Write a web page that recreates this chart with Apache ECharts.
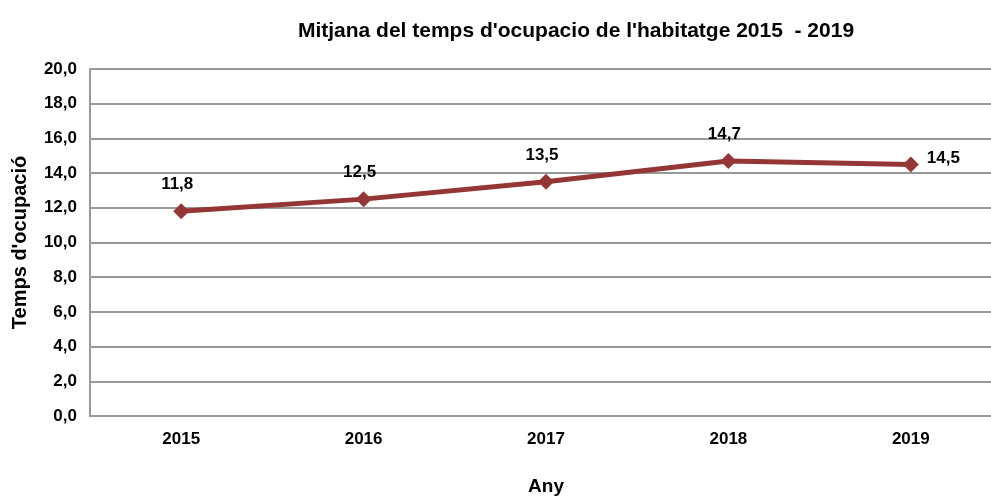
<!DOCTYPE html>
<html>
<head>
<meta charset="utf-8">
<script src="https://cdn.jsdelivr.net/npm/echarts@6/dist/echarts.min.js"></script>
<style>
  html, body { margin: 0; padding: 0; background: #fff; }
  #chart { width: 991px; height: 497px; }
</style>
</head>
<body>
<div id="chart"></div>
<script>
// dades
var anys = ['2015', '2016', '2017', '2018', '2019'];
var mitjana = [11.8, 12.5, 13.5, 14.7, 14.5];
var titol = "Mitjana del temps d'ocupacio de l'habitatge 2015  - 2019";

var font = 'Liberation Sans, Arial, sans-serif';

var chart = echarts.init(document.getElementById('chart'));

var punts = mitjana.map(function (v, i) {
  var p = { value: v };
  // l'ultim punt porta l'etiqueta a la dreta
  if (i === mitjana.length - 1) {
    p.label = { position: 'right', distance: 8, offset: [0, -6] };
  }
  return p;
});

chart.setOption({
  animation: false,
  title: {
    text: titol,
    left: 571,
    top: 16,
    textAlign: 'center',
    textStyle: { fontFamily: font, fontSize: 21, fontWeight: 'bold', color: '#000' }
  },
  grid: { left: 90, top: 69, width: 912, height: 347, outerBoundsMode: 'none' },
  xAxis: {
    type: 'category',
    data: anys,
    boundaryGap: true,
    name: 'Any',
    nameLocation: 'middle',
    nameGap: 61,
    nameTextStyle: { fontFamily: font, fontSize: 19, fontWeight: 'bold', color: '#000' },
    axisLine: { lineStyle: { color: '#999', width: 2 } },
    axisTick: { show: false },
    axisLabel: { margin: 15, fontFamily: font, fontSize: 17, fontWeight: 'bold', color: '#000' }
  },
  yAxis: {
    type: 'value',
    min: 0,
    max: 20,
    interval: 2,
    name: "Temps d'ocupació",
    nameLocation: 'middle',
    nameGap: 60,
    nameTextStyle: { fontFamily: font, fontSize: 20, fontWeight: 'bold', color: '#000' },
    axisLine: { show: true, lineStyle: { color: '#999', width: 2 } },
    axisTick: { show: false },
    splitLine: { lineStyle: { color: '#999', width: 2 } },
    axisLabel: {
      margin: 13,
      fontFamily: font, fontSize: 17, fontWeight: 'bold', color: '#000',
      formatter: function (v) { return v.toFixed(1).replace('.', ','); }
    }
  },
  series: [{
    type: 'line',
    data: punts,
    symbol: 'diamond',
    symbolSize: 16,
    lineStyle: { color: '#943634', width: 5 },
    itemStyle: { color: '#943634' },
    label: {
      show: true,
      position: 'top',
      distance: 10,
      offset: [-4, 0],
      fontFamily: font, fontSize: 17, fontWeight: 'bold', color: '#000',
      formatter: function (p) { return p.value.toFixed(1).replace('.', ','); }
    }
  }]
});
</script>
</body>
</html>
